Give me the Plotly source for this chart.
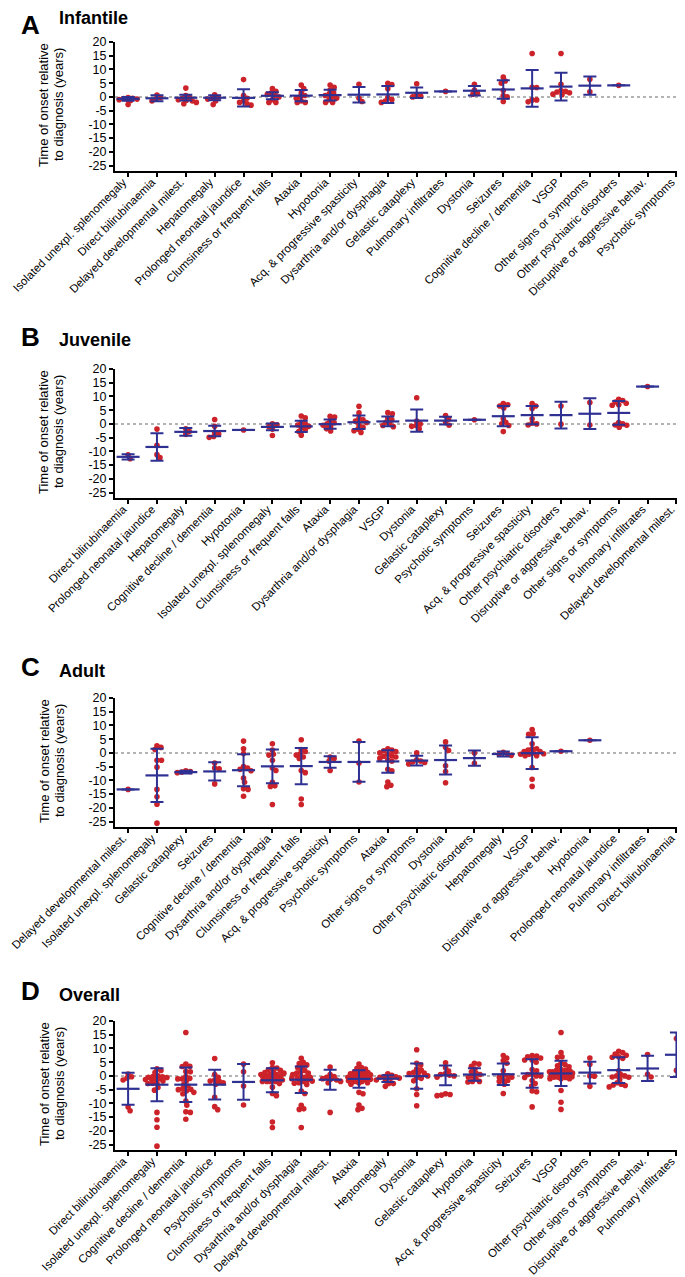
import numpy as np
import plotly.graph_objects as go

# ---------------- DATA ----------------
A_labels = ["Isolated unexpl. splenomegaly", "Direct bilirubinaemia", "Delayed developmental milest.",
            "Hepatomegaly", "Prolonged neonatal jaundice", "Clumsiness or frequent falls", "Ataxia",
            "Hypotonia", "Acq. & progressive spasticity", "Dysarthria and/or dysphagia",
            "Gelastic cataplexy", "Pulmonary infiltrates", "Dystonia", "Seizures",
            "Cognitive decline / dementia", "VSGP", "Other signs or symptoms",
            "Other psychiatric disorders", "Disruptive or aggressive behav.", "Psychotic symptoms"]
A_points = [
    [-0.2, -0.5, -0.8, -1.0, -1.3, -2.8, -0.6, -1.1],
    [0.7, -0.3, -0.8, -1.5],
    [3.2, 0.5, -0.2, -0.5, -1.0, -1.2, -1.5, -2.0, -2.5],
    [0.8, -0.2, -0.5, -0.8, -1.5, -2.8],
    [6.3, 0.5, -0.5, -1.5, -2.0, -2.5, -3.0],
    [3.0, 2.0, 1.5, 1.0, 0.5, 0.0, -1.0, -2.0, -2.0],
    [4.3, 3.0, 1.5, 0.5, 0.0, -0.5, -1.5, -2.0, -2.0],
    [4.3, 3.5, 2.5, 1.5, 1.0, 0.5, 0.0, -0.5, -1.0, -2.0, -2.0],
    [4.6, -0.5, -1.7],
    [5.0, 4.5, 3.0, -0.2, -1.0, -1.5, -2.0],
    [4.8, 0.8, 0.3, 0.0],
    [2.0],
    [4.6, 2.5, 1.3, 1.0],
    [7.2, 5.8, 5.0, 2.3, 0.5, 0.0, -1.7],
    [15.8, 3.5, 3.4, -1.1, -1.1, -1.8],
    [15.8, 4.6, 2.3, 2.0, 1.8, 1.5, 1.0, 0.8],
    [6.4, 1.9],
    [4.2],
    [],
    [],
]
A_mean = [-0.7, -0.5, -0.3, -0.3, -0.35, 0.4, 0.45, 0.65, 0.8, 0.9, 1.5, 2.0, 2.25, 2.7, 3.1, 3.75, 4.1, 4.2, None, None]
A_sd = [0.7, 1.1, 1.05, 0.9, 3.15, 1.3, 2.05, 1.95, 2.8, 3.1, 1.9, 0, 1.75, 3.4, 6.7, 5.05, 3.3, 0, None, None]

B_labels = ["Direct bilirubinaemia", "Prolonged neonatal jaundice", "Hepatomegaly",
            "Cognitive decline / dementia", "Hypotonia", "Isolated unexpl. splenomegaly",
            "Clumsiness or frequent falls", "Ataxia", "Dysarthria and/or dysphagia", "VSGP", "Dystonia",
            "Gelastic cataplexy", "Psychotic symptoms", "Seizures", "Acq. & progressive spasticity",
            "Other psychiatric disorders", "Disruptive or aggressive behav.", "Other signs or symptoms",
            "Pulmonary infiltrates", "Delayed developmental milest."]
B_points = [
    [-11.3, -12.7],
    [-1.9, -7.8, -11.2, -12.3],
    [-1.8, -2.8, -3.8],
    [1.6, -0.9, -3.1, -3.7, -4.6, -4.9],
    [-2.2],
    [0.0, -0.3, -1.0, -1.9, -4.2],
    [2.9, 2.2, 0.6, 0.0, -0.4, -0.9, -1.5, -2.0, -2.8, -4.1],
    [2.8, 2.5, 1.2, 0.4, 0.0, -0.5, -1.0, -1.8, -2.6],
    [6.4, 4.0, 2.0, 1.5, 1.0, 0.5, -0.4, -1.2, -1.9, -2.5, -3.1],
    [4.1, 3.7, 2.0, 1.5, 0.6, 0.0, -0.6, -1.0],
    [9.5, 1.0, 0.0, -0.6, -0.9, -1.8],
    [3.0, 1.8, 0.5, -0.5],
    [1.5],
    [7.4, 7.0, 6.5, 5.8, 1.9, 0.6, 0.0, -0.6, -2.8],
    [7.4, 6.5, 5.6, 1.9, 0.3, 0.0, -0.4],
    [6.5, -0.1],
    [7.8, -0.4],
    [9.0, 8.5, 8.0, 7.5, 7.0, 6.8, 0.5, 0.0, -0.4, -0.5, -1.2],
    [13.6],
    [],
]
B_mean = [-12.0, -8.4, -2.9, -2.6, -2.2, -1.1, -0.9, -0.1, 0.6, 0.9, 1.2, 1.2, 1.5, 2.8, 3.2, 3.2, 3.7, 4.0, 13.6, None]
B_sd = [0.95, 5.0, 1.4, 1.9, 0, 1.25, 2.05, 1.7, 2.5, 1.8, 4.05, 1.4, 0, 3.7, 3.3, 4.85, 5.6, 4.35, 0, None]

C_labels = ["Delayed developmental milest.", "Isolated unexpl. splenomegaly", "Gelastic cataplexy",
            "Seizures", "Cognitive decline / dementia", "Dysarthria and/or dysphagia",
            "Clumsiness or frequent falls", "Acq. & progressive spasticity", "Psychotic symptoms",
            "Ataxia", "Other signs or symptoms", "Dystonia", "Other psychiatric disorders",
            "Hepatomegaly", "VSGP", "Disruptive or aggressive behav.", "Hypotonia",
            "Prolonged neonatal jaundice", "Pulmonary infiltrates", "Direct bilirubinaemia"]
C_points = [
    [-13.3],
    [2.6, 2.0, 1.2, -2.7, -2.7, -5.2, -13.3, -16.0, -18.7, -25.6],
    [-6.5, -6.8, -7.0, -7.2],
    [-3.7, -5.5, -5.8, -11.3],
    [4.3, 1.5, -0.2, -5.0, -5.5, -6.0, -6.5, -9.2, -10.7, -13.1, -13.3, -15.8],
    [3.3, 1.0, -0.5, -0.8, -2.7, -5.5, -6.4, -10.7, -12.0, -12.2, -18.8],
    [4.8, 1.2, 0.5, -0.3, -0.8, -1.5, -2.0, -6.4, -7.2, -16.8, -18.8],
    [-1.5, -2.0, -3.0, -6.4],
    [4.3, -3.7, -10.6],
    [1.5, 1.0, 0.8, 0.5, 0.0, -0.5, -1.0, -1.2, -1.5, -2.0, -2.5, -3.0, -6.0, -6.5, -10.6, -11.8, -12.3],
    [0.0, -2.5, -3.0, -3.3, -3.5, -4.0],
    [4.0, 2.1, 0.9, -4.7, -6.8, -10.9],
    [0.0, -3.8],
    [0.2, -0.3, -0.5, -0.9],
    [8.5, 7.0, 6.8, 3.3, 1.5, 1.5, 1.0, 0.5, 0.5, 0.0, -0.3, -0.5, -0.5, -1.0, -1.0, -5.3, -9.6, -12.2],
    [0.6],
    [4.6],
    [],
    [],
    [],
]
C_mean = [-13.3, -8.2, -7.0, -6.75, -6.3, -4.9, -4.8, -3.3, -3.3, -3.1, -2.8, -2.6, -1.9, -0.4, -0.1, 0.6, 4.6, None, None, None]
C_sd = [0, 9.7, 0.5, 3.35, 5.85, 6.15, 6.6, 2.1, 7.25, 4.1, 1.8, 5.3, 2.8, 0.95, 5.8, 0, 0, None, None, None]

D_labels = ["Direct bilirubinaemia", "Isolated unexpl. splenomegaly", "Cognitive decline / dementia",
            "Prolonged neonatal jaundice", "Psychotic symptoms", "Clumsiness or frequent falls",
            "Dysarthria and/or dysphagia", "Delayed developmental milest.", "Ataxia", "Heptomegaly",
            "Dystonia", "Gelastic cataplexy", "Hypotonia", "Acq. & progressive spasticity", "Seizures",
            "VSGP", "Other psychiatric disorders", "Other signs or symptoms",
            "Disruptive or aggressive behav.", "Pulmonary infiltrates"]
D_mean = [-4.7, -3.2, -3.2, -3.2, -2.2, -1.6, -1.4, -1.4, -1.1, -1.0, -0.1, 0.2, 0.5, 0.6, 0.9, 0.9, 1.2, 2.1, 2.7, 7.7]
D_sd = [5.85, 6.0, 6.3, 5.4, 6.5, 4.4, 4.8, 3.6, 3.2, 1.2, 4.6, 3.6, 2.3, 3.9, 5.2, 4.6, 4.0, 4.7, 4.6, 8.1]

# Overall = all individual patients of the three groups, pooled per symptom
_pool = {}
for labs, pts in ((A_labels, A_points), (B_labels, B_points), (C_labels, C_points)):
    for lab, p in zip(labs, pts):
        _pool.setdefault(lab, []).extend(p)
_alias = {"Heptomegaly": "Hepatomegaly"}
D_points = [list(_pool.get(_alias.get(l, l), [])) for l in D_labels]

panels = [
    ("A", "Infantile", A_labels, A_points, A_mean, A_sd),
    ("B", "Juvenile", B_labels, B_points, B_mean, B_sd),
    ("C", "Adult", C_labels, C_points, C_mean, C_sd),
    ("D", "Overall", D_labels, D_points, D_mean, D_sd),
]
y_ticks = [20, 15, 10, 5, 0, -5, -10, -15, -20, -25]

# ---------------- LAYOUT GEOMETRY ----------------
W, H = 685, 1277
RED = "#cc2229"
BLUE = "#2e3192"
FONT = "Liberation Sans, Arial, sans-serif"
AX_L, AX_R = 107, 685
CAT0 = 120.1
PPC = 28.86
XR = [-(CAT0 - AX_L) / PPC, (AX_R - CAT0) / PPC]
YR = [-27, 20]
PPU = 2.745
PLOT_H = (YR[1] - YR[0]) * PPU
TOPS = [34, 361, 690, 1013]
# letter / title placement: (y in px, anchor)
LETTER_POS = [(0, "top"), (328.5, "middle"), (658.5, "middle"), (983, "middle")]
TITLE_Y = [9.5, 332, 663, 987]
DOT = 5.6
SEP = 4.2
MAXW = 11.5
MEAN_W = 23   # px length of the mean bar


def swarm(vals):
    vals = np.asarray(vals, float)
    offs = np.zeros(len(vals))
    placed = []
    cands = [0.0]
    for s in np.arange(0.5, MAXW + 0.01, 0.5):
        cands += [s, -s]
    for idx in np.argsort(-vals, kind="stable"):
        y = vals[idx] * PPU
        best, bestd = 0.0, -1
        for c in cands:
            dmin = min([np.hypot(c - px, y - py) for px, py in placed] or [99])
            if dmin >= SEP:
                best = c
                break
            if dmin > bestd + 0.8:
                best, bestd = c, dmin
        placed.append((best, y))
        offs[idx] = best / PPC
    return offs


def py(px):
    return 1 - px / H


fig = go.Figure()
layout = dict(width=W, height=H, margin=dict(l=0, r=0, t=0, b=0, autoexpand=False),
              paper_bgcolor="white", plot_bgcolor="white", showlegend=False,
              font=dict(family=FONT, color="black"))
annotations = []
shapes = []

for k, (letter, title, labels, points, means, sds) in enumerate(panels, start=1):
    sfx = "" if k == 1 else str(k)
    xa, ya = "x" + sfx, "y" + sfx
    top = TOPS[k - 1]
    # dots
    xs, ys = [], []
    for i, p in enumerate(points):
        if not p:
            continue
        off = swarm(p)
        xs += list(i + off)
        ys += list(p)
    fig.add_trace(go.Scatter(x=xs, y=ys, mode="markers", xaxis=xa, yaxis=ya,
                             marker=dict(color=RED, size=DOT, line=dict(width=0)),
                             hoverinfo="skip", cliponaxis=False))
    # mean +/- SD
    mx = [i for i, m in enumerate(means) if m is not None]
    my = [means[i] for i in mx]
    me = [sds[i] for i in mx]
    fig.add_trace(go.Scatter(x=mx, y=my, mode="markers", xaxis=xa, yaxis=ya,
                             marker=dict(symbol="line-ew", size=MEAN_W / 1.4, color=BLUE,
                                         line=dict(width=2.2, color=BLUE)),
                             error_y=dict(type="data", array=me, symmetric=True, width=6.5,
                                          thickness=2, color=BLUE),
                             hoverinfo="skip", cliponaxis=False))
    dom_y = [py(top + PLOT_H), py(top)]
    layout["xaxis" + sfx] = dict(domain=[AX_L / W, AX_R / W], range=XR, anchor=ya,
                                 automargin=False,
                                 tickvals=list(range(len(labels))), ticktext=labels,
                                 tickangle=-45, ticks="outside", ticklen=4, tickwidth=1.5,
                                 tickcolor="black", showline=True, linecolor="black",
                                 linewidth=2, showgrid=False, zeroline=False,
                                 ticklabelshift=-5, ticklabelstandoff=-6,
                                 ticklabeloverflow="allow",
                                 tickfont=dict(family=FONT, size=11.5, color="black"))
    layout["yaxis" + sfx] = dict(domain=dom_y, range=YR, anchor=xa, automargin=False,
                                 tickvals=y_ticks, ticktext=[str(t) for t in y_ticks],
                                 ticks="outside", ticklen=4, tickwidth=1.5, tickcolor="black",
                                 showline=True, linecolor="black", linewidth=2,
                                 showgrid=False, zeroline=False,
                                 tickfont=dict(family=FONT, size=12.5, color="black"))
    shapes.append(dict(type="line", xref=xa + " domain", x0=0, x1=1, yref=ya, y0=0, y1=0,
                       line=dict(color="#9a9a9a", width=1.5, dash="dot"), layer="below"))
    ly, lanchor = LETTER_POS[k - 1]
    annotations.append(dict(text="<b>%s</b>" % letter, xref="paper", yref="paper",
                            x=11 / W, y=py(ly), xanchor="left", yanchor=lanchor,
                            showarrow=False, font=dict(family=FONT, size=26, color="black")))
    annotations.append(dict(text="<b>%s</b>" % title, xref="paper", yref="paper",
                            x=49 / W, y=py(TITLE_Y[k - 1]), xanchor="left", yanchor="middle",
                            showarrow=False, font=dict(family=FONT, size=18, color="black")))
    mid = top + 63
    annotations.append(dict(text="Time of onset relative", xref="paper", yref="paper",
                            x=36 / W, y=py(mid), xanchor="center", yanchor="middle",
                            textangle=-90, showarrow=False,
                            font=dict(family=FONT, size=13, color="black")))
    annotations.append(dict(text="to diagnosis (years)", xref="paper", yref="paper",
                            x=51 / W, y=py(mid), xanchor="center", yanchor="middle",
                            textangle=-90, showarrow=False,
                            font=dict(family=FONT, size=13, color="black")))

layout["annotations"] = annotations
layout["shapes"] = shapes
fig.update_layout(**layout)
fig.write_html("out.html")
